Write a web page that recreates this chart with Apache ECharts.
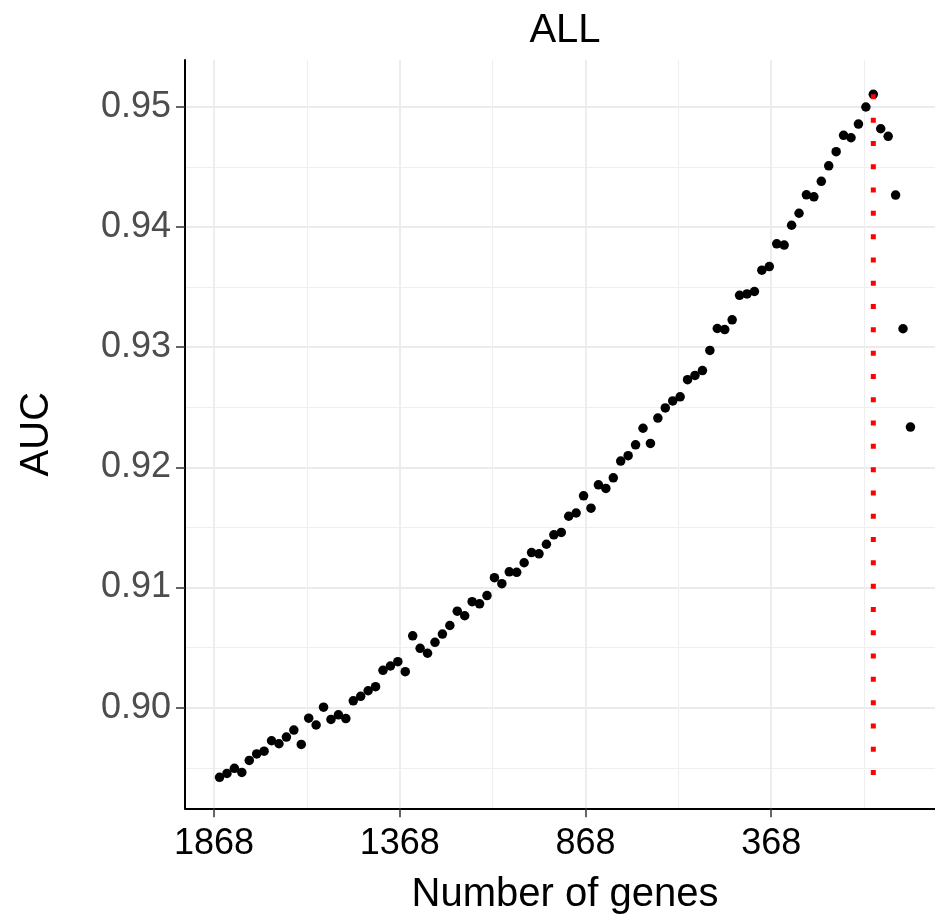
<!DOCTYPE html>
<html><head><meta charset="utf-8">
<script src="https://cdn.jsdelivr.net/npm/echarts@6/dist/echarts.min.js"></script>
<style>html,body{margin:0;padding:0;background:#fff}#c{width:935px;height:920px}</style>
</head><body><div id="c"></div>
<script>
// ---- data ----
const genes = [1853,1833,1813,1793,1773,1753,1733,1713,1693,1673,
  1653,1633,1613,1593,1573,1553,1533,1513,1493,1473,
  1453,1433,1413,1393,1373,1353,1333,1313,1293,1273,
  1253,1233,1213,1193,1173,1153,1133,1113,1093,1073,
  1053,1033,1013,993,973,953,933,913,893,873,
  853,833,813,793,773,753,733,713,693,673,
  653,633,613,593,573,553,533,513,493,473,
  453,433,413,393,373,353,333,313,293,273,
  253,233,213,193,173,153,133,113,93,73,
  53,33,13,-7];
const auc = [0.89421,0.89453,0.89496,0.89461,0.89561,0.89615,0.89638,0.89725,0.89700,0.89756,
  0.89814,0.89694,0.89913,0.89856,0.90004,0.89902,0.89941,0.89910,0.90057,0.90095,
  0.90141,0.90175,0.90311,0.90347,0.90383,0.90300,0.90598,0.90494,0.90453,0.90544,
  0.90613,0.90684,0.90803,0.90765,0.90882,0.90864,0.90933,0.91082,0.91032,0.91131,
  0.91126,0.91206,0.91291,0.91280,0.91360,0.91438,0.91458,0.91593,0.91620,0.91763,
  0.91660,0.91854,0.91824,0.91913,0.92052,0.92097,0.92187,0.92325,0.92199,0.92410,
  0.92494,0.92552,0.92587,0.92729,0.92765,0.92805,0.92973,0.93155,0.93146,0.93227,
  0.93431,0.93443,0.93463,0.93640,0.93670,0.93860,0.93849,0.94014,0.94114,0.94267,
  0.94251,0.94380,0.94509,0.94626,0.94762,0.94742,0.94856,0.94998,0.95103,0.94817,
  0.94754,0.94265,0.93153,0.92335];
const xMajorTicks = [1868, 1368, 868, 368];
const xMinorTicks = [1618, 1118, 618, 118];
const yMajorTicks = [0.90, 0.91, 0.92, 0.93, 0.94, 0.95];
const yMinorTicks = [0.895, 0.905, 0.915, 0.925, 0.935, 0.945];
const xRange = [-100, 1946];
const yRange = [0.89163, 0.95389];
const titleText = 'ALL';
const xName = 'Number of genes';
const yName = 'AUC';

// ---- layout ----
const GRID = {left: 185, top: 60, width: 760, height: 748.3, containLabel: false, outerBoundsMode: 'none'};
const FONT = '"Liberation Sans", Arial, sans-serif';
const points = genes.map((g, i) => [g, auc[i]]);
let iMax = 0;
auc.forEach((v, i) => { if (v > auc[iMax]) iMax = i; });
const minAuc = Math.min(...auc);
const bestLine = [[genes[iMax], auc[iMax]], [genes[iMax], minAuc]];

const majorGrid = {show: true, lineStyle: {color: '#ebebeb', width: 1.8}};
const minorGrid = {show: true, lineStyle: {color: '#efefef', width: 1.2}};

function xAxisBase(extra) {
  return Object.assign({
    type: 'value', inverse: true, min: xRange[0], max: xRange[1], gridIndex: 0
  }, extra);
}
function yAxisBase(extra) {
  return Object.assign({
    type: 'value', min: yRange[0], max: yRange[1], gridIndex: 0
  }, extra);
}

const chart = echarts.init(document.getElementById('c'), null, {renderer: 'canvas'});
const gridCenter = GRID.left + GRID.width / 2;
chart.setOption({
  backgroundColor: '#fff',
  animation: false,
  grid: GRID,
  graphic: [{
    type: 'text', x: gridCenter, y: 31,
    style: {text: titleText, font: '40px ' + FONT, fill: '#000', textAlign: 'center', textVerticalAlign: 'middle'}
  }],
  xAxis: [
    xAxisBase({
      position: 'top', show: true,
      axisLine: {show: false}, axisLabel: {show: false},
      axisTick: {show: false, customValues: xMinorTicks},
      splitLine: minorGrid, z: 0
    }),
    xAxisBase({
      position: 'bottom',
      name: xName, nameLocation: 'middle', nameGap: 67,
      nameTextStyle: {fontFamily: FONT, fontSize: 40, color: '#000'},
      axisLine: {show: true, onZero: false, lineStyle: {color: '#000', width: 2}},
      axisTick: {show: true, length: 9, customValues: xMajorTicks, lineStyle: {color: '#333', width: 1.5}},
      axisLabel: {show: true, customValues: xMajorTicks, margin: 18, fontFamily: FONT, fontSize: 36, color: '#000',
        formatter: v => String(Math.round(v))},
      splitLine: majorGrid
    })
  ],
  yAxis: [
    yAxisBase({
      position: 'right', show: true,
      axisLine: {show: false}, axisLabel: {show: false},
      axisTick: {show: false, customValues: yMinorTicks},
      splitLine: minorGrid, z: 0
    }),
    yAxisBase({
      position: 'left',
      name: yName, nameLocation: 'middle', nameGap: 128, nameRotate: 90,
      nameTextStyle: {fontFamily: FONT, fontSize: 40, color: '#000'},
      axisLine: {show: true, onZero: false, lineStyle: {color: '#000', width: 2}},
      axisTick: {show: true, length: 9, customValues: yMajorTicks, lineStyle: {color: '#333', width: 1.5}},
      axisLabel: {show: true, customValues: yMajorTicks, margin: 14, fontFamily: FONT, fontSize: 36, color: '#4d4d4d',
        formatter: v => v.toFixed(2)},
      splitLine: majorGrid
    })
  ],
  series: [
    {
      type: 'scatter', xAxisIndex: 1, yAxisIndex: 1,
      data: points, symbol: 'circle', symbolSize: 9.5,
      itemStyle: {color: '#000', opacity: 1}, z: 3, silent: true
    },
    {
      type: 'line', xAxisIndex: 1, yAxisIndex: 1,
      data: bestLine, symbol: 'none', z: 4, silent: true,
      lineStyle: {color: '#ff0000', width: 5, type: [5, 18.3], cap: 'butt'}
    }
  ]
});
</script>
</body></html>
